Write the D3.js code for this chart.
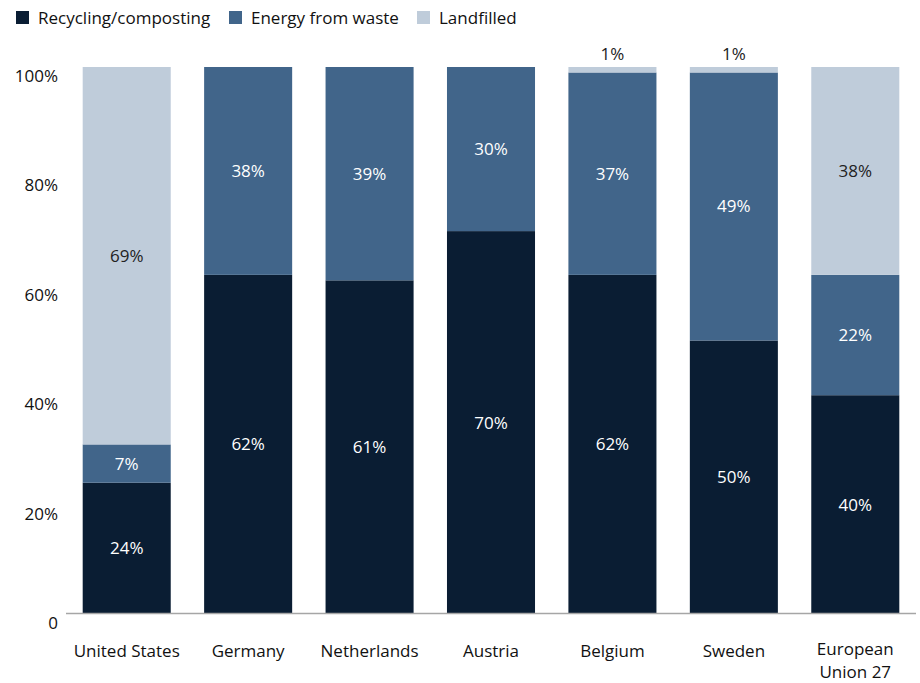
<!DOCTYPE html>
<html>
<head>
<meta charset="utf-8">
<script src="https://cdn.jsdelivr.net/npm/d3@7"></script>
<style>
  body { margin: 0; background: #fff; }
  svg { font-family: "Open Sans", "Noto Sans", sans-serif; }
</style>
</head>
<body>
<div id="chart"></div>
<script>
var categories = ["United States", "Germany", "Netherlands", "Austria", "Belgium", "Sweden", "European Union 27"];
var seriesNames = ["Recycling/composting", "Energy from waste", "Landfilled"];
var recycling = [24, 62, 61, 70, 62, 50, 40];
var energy = [7, 38, 39, 30, 37, 49, 22];
var landfilled = [69, 0, 0, 0, 1, 1, 38];
var yTicks = [0, 20, 40, 60, 80, 100];
var yTickLabels = ["0", "20%", "40%", "60%", "80%", "100%"];

var colors = ["#0a1d33", "#41658a", "#bfccda"];
var labelColors = ["#ffffff", "#ffffff", "#222222"];

var width = 920, height = 683;

var svg = d3.select("#chart")
  .append("svg")
    .attr("width", width)
    .attr("height", height);

var x = d3.scaleBand()
    .domain(categories)
    .range([66, 916])
    .paddingInner(0.275)
    .paddingOuter(0.1375);

var y = d3.scaleLinear().domain([0, 100]).range([614, 67]);

var table = categories.map(function(c, i) {
  return {cat: c, s0: recycling[i], s1: energy[i], s2: landfilled[i]};
});
var stacked = d3.stack().keys(["s0", "s1", "s2"])(table);

// bars
var layers = svg.selectAll(".layer")
  .data(stacked)
  .enter().append("g")
    .attr("class", "layer")
    .attr("fill", function(d, i) { return colors[i]; });

layers.selectAll("rect")
  .data(function(d) { return d; })
  .enter().append("rect")
    .attr("x", function(d) { return x(d.data.cat); })
    .attr("y", function(d) { return y(d[1]); })
    .attr("width", x.bandwidth())
    .attr("height", function(d) { return y(d[0]) - y(d[1]); });

// value labels
stacked.forEach(function(layer, li) {
  layer.forEach(function(d) {
    var v = d[1] - d[0];
    if (v <= 0) return;
    var cx = x(d.data.cat) + x.bandwidth() / 2;
    var small = (y(d[0]) - y(d[1])) < 20;
    svg.append("text")
      .attr("x", cx)
      .attr("y", small ? y(d[1]) - 7 : (y(d[0]) + y(d[1])) / 2)
      .attr("dy", small ? 0 : "0.35em")
      .attr("text-anchor", "middle")
      .style("font-size", "17px")
      .attr("fill", small ? "#222222" : labelColors[li])
      .text(v + "%");
  });
});

// x axis line
svg.append("line")
  .attr("x1", 66).attr("x2", 916)
  .attr("y1", y(0) - 0.5).attr("y2", y(0) - 0.5)
  .attr("stroke", "#a6a6a6")
  .attr("stroke-width", 1.5);

// y tick labels
svg.selectAll(".ylab")
  .data(yTicks)
  .enter().append("text")
    .attr("class", "ylab")
    .attr("x", 58)
    .attr("y", function(d) { return y(d) + 15; })
    .attr("text-anchor", "end")
    .style("font-size", "17px")
    .attr("fill", "#111")
    .text(function(d, i) { return yTickLabels[i]; });

// x category labels (EU label wraps onto two lines)
svg.selectAll(".xlab")
  .data(categories)
  .enter().append("text")
    .attr("class", "xlab")
    .attr("x", function(d) { return x(d) + x.bandwidth() / 2; })
    .attr("y", function(d) { return d === "European Union 27" ? 655 : 657; })
    .attr("text-anchor", "middle")
    .style("font-size", "17px")
    .attr("fill", "#111")
    .each(function(d) {
      var t = d3.select(this);
      if (d === "European Union 27") {
        t.append("tspan").attr("x", x(d) + x.bandwidth() / 2).text("European");
        t.append("tspan").attr("x", x(d) + x.bandwidth() / 2).attr("dy", 23).text("Union 27");
      } else {
        t.text(d);
      }
    });

// legend
var legendX = [16, 229, 417];
var legend = svg.selectAll(".legend")
  .data(seriesNames)
  .enter().append("g")
    .attr("class", "legend")
    .attr("transform", function(d, i) { return "translate(" + legendX[i] + ",11)"; });

legend.append("rect")
  .attr("width", 13)
  .attr("height", 13)
  .attr("fill", function(d, i) { return colors[i]; });

legend.append("text")
  .attr("x", 22)
  .attr("y", 13)
  .style("font-size", "17px")
  .attr("fill", "#111")
  .text(function(d) { return d; });
</script>
</body>
</html>
